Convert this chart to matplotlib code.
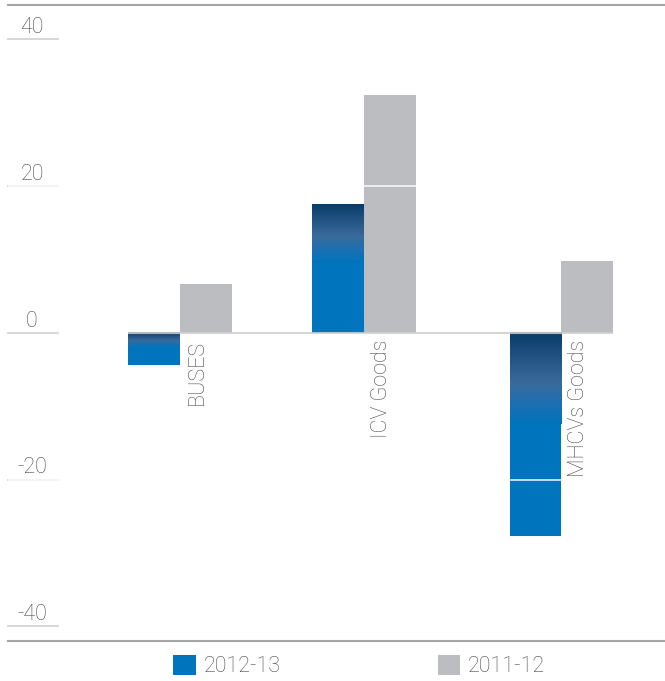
import matplotlib
matplotlib.use("Agg")
import matplotlib.pyplot as plt
import numpy as np
from matplotlib.colors import LinearSegmentedColormap

plt.rcParams['font.family'] = ['Roboto', 'DejaVu Sans']
plt.rcParams['font.weight'] = 'light'

categories = ["BUSES", "ICV Goods", "MHCVs Goods"]
series_names = ["2012-13", "2011-12"]
values_2012_13 = [-4.4, 17.5, -27.7]
values_2011_12 = [6.6, 32.4, 9.8]
y_ticks = [40, 20, 0, -20, -40]

blue = "#0074bc"
grey = "#bcbdc0"
text_col = "#4a4a4a"
grad_cmap = LinearSegmentedColormap.from_list(
    "bar_grad", [(0.0, "#0a3c69"), (0.55, "#3a6a9c"), (0.8, "#1a70b2"), (1.0, blue)])

fig = plt.figure(figsize=(6.65, 6.81), dpi=100)
ax = fig.add_axes([8 / 665, 1 - 641 / 681, 657 / 665, 636 / 681])

# group centres are not quite evenly spaced in the original
x = np.array([0, 0.965, 2.0])
w = 0.2726

ax.bar(x - w / 2, values_2012_13, w, color=blue, zorder=2, label=series_names[0])
ax.bar(x + w / 2, values_2011_12, w, color=grey, zorder=2, label=series_names[1])

# dark gradient on the top part of the blue bars
grad = np.linspace(0, 1, 200).reshape(-1, 1)
for xi, v in zip(x, values_2012_13):
    top = max(v, 0)
    bottom = top - 0.45 * abs(v)
    ax.imshow(grad, extent=[xi - w, xi, bottom, top], aspect='auto',
              cmap=grad_cmap, origin='upper', zorder=2.5, interpolation='bilinear')

# white gridlines over bars
for t in [20, -20]:
    ax.axhline(t, color='white', lw=1.3, alpha=0.8, zorder=3)

# zero line across the bar area
ax.hlines(0, x[0] - w, x[-1] + w, color="#cfcfcf", lw=1.5, alpha=0.85, zorder=4)

# short tick lines with labels above
ytr = ax.get_yaxis_transform()
for t in y_ticks:
    ax.plot([0, 50 / 657], [t, t], color="#d3d3d3", lw=1.3, transform=ytr,
            clip_on=False, zorder=1)
    ax.text(24 / 657, t + 0.85, str(t), transform=ytr, ha='center', va='baseline',
            fontsize=15.5, color=text_col)

# category labels
for xi, c in zip(x, categories):
    ax.text(xi + 0.035, -0.9, c, rotation=90, ha='left', va='top',
            fontsize=15.5, color=text_col, zorder=5)

ax.set_xlim(-0.9017, 2.5426)
ax.set_ylim(-42, 44.7)
ax.set_xticks([])
ax.set_yticks([])
for s in ['left', 'right']:
    ax.spines[s].set_visible(False)
for s in ['top', 'bottom']:
    ax.spines[s].set_color("#a6a6a6")
    ax.spines[s].set_linewidth(1.5)

fig.legend(loc='center', bbox_to_anchor=(0.54, 0.022), ncol=2, frameon=False,
           fontsize=15.5, handlelength=1.05, handleheight=1.05, handletextpad=0.35,
           columnspacing=7.3, labelcolor=text_col, borderpad=0)

fig.savefig("out.png", dpi=100)
